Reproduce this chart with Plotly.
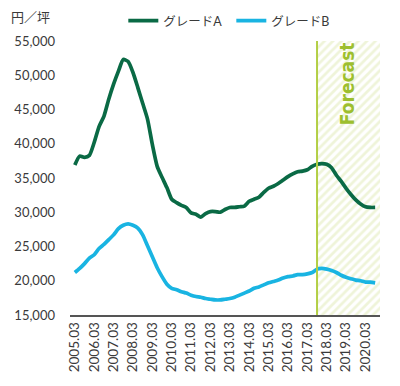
import plotly.graph_objects as go

# quarterly periods 2005.03 .. 2020.09
periods = [f"{y}.{m:02d}" for y in range(2005, 2021) for m in (3, 6, 9, 12)][:63]

grade_a = [36900, 38200, 38000, 38300, 40200, 42500, 44000, 46500, 48700, 50600,
           52300, 52000, 50400, 48200, 45900, 43600, 39900, 36700, 35100, 33600,
           31900, 31400, 31000, 30700, 29900, 29700, 29300, 29800, 30100, 30100,
           30000, 30400, 30700, 30700, 30800, 30900, 31600, 31900, 32200, 32900,
           33500, 33800, 34200, 34700, 35200, 35600, 35900, 36000, 36200, 36700,
           37000, 37100, 37000, 36500, 35400, 34500, 33500, 32600, 31800, 31200,
           30800, 30700, 30700]

grade_b = [21200, 21800, 22500, 23300, 23800, 24700, 25300, 26000, 26700, 27600,
           28100, 28300, 28100, 27700, 26700, 25100, 23500, 21900, 20600, 19500,
           18900, 18700, 18400, 18200, 17900, 17700, 17600, 17400, 17300, 17200,
           17200, 17300, 17400, 17600, 17900, 18200, 18500, 18900, 19100, 19400,
           19700, 19900, 20100, 20400, 20600, 20700, 20900, 20900, 21000, 21200,
           21700, 21800, 21700, 21500, 21200, 20800, 20500, 20300, 20100, 20000,
           19800, 19800, 19700]

tick_labels = ["2005.03", "2006.03", "2007.03", "2008.03", "2009.03", "2010.03",
               "2011.03", "2012.03", "2013.03", "2014.03", "2015.03", "2016.03",
               "2017.03", "2018.03", "2019.03", "2020.03"]

forecast_start = "2017.09"
y_min, y_max = 15000, 55000

x = list(range(len(periods)))
tickvals = [periods.index(t) for t in tick_labels]
fs = periods.index(forecast_start)
x_lo, x_hi = -1, len(periods)

GREEN = "#0a6a45"
BLUE = "#19b4e2"
LIME = "#b3cf45"
TXT = "#3a3a3a"
FONT = "Lato, Noto Sans CJK JP, sans-serif"

# page body has an 8px default margin; size the figure to fit the window
W, H = 392, 378

fig = go.Figure()

# forecast hatched region
fig.add_trace(go.Bar(
    x=[(fs + x_hi) / 2], y=[y_max - y_min], base=[y_min], width=[x_hi - fs],
    marker=dict(color="white", line=dict(width=0),
                pattern=dict(shape="/", fgcolor="#dfe9b4", bgcolor="white",
                             size=6, solidity=0.45)),
    showlegend=False, hoverinfo="skip"))

fig.add_trace(go.Scatter(x=x, y=grade_a, mode="lines", name="グレードA",
                         line=dict(color=GREEN, width=3.7, shape="spline", smoothing=0.6)))
fig.add_trace(go.Scatter(x=x, y=grade_b, mode="lines", name="グレードB",
                         line=dict(color=BLUE, width=3.7, shape="spline", smoothing=0.6)))

fig.add_shape(type="line", x0=fs, x1=fs, y0=y_min, y1=y_max, xref="x", yref="y",
              line=dict(color=LIME, width=2))

fig.add_annotation(x=(fs + x_hi) / 2 - 0.3, y=48700, xref="x", yref="y",
                   text="<b>Forecast</b>", textangle=-90, showarrow=False,
                   font=dict(family="DejaVu Sans Condensed, Liberation Sans", size=19, color="#9dbf2e"))

fig.add_annotation(x=-0.197, y=1.088, xref="paper", yref="paper", xanchor="left",
                   yanchor="middle", text="円／坪", showarrow=False,
                   font=dict(family=FONT, size=13, color=TXT))

fig.update_layout(
    width=W, height=H,
    margin=dict(l=62, r=20, t=33, b=71, autoexpand=False),
    paper_bgcolor="white", plot_bgcolor="white",
    font=dict(family=FONT, size=13, color=TXT),
    bargap=0,
    legend=dict(orientation="h", x=0.172, xanchor="left", xref="paper",
                y=1 - 13 / H, yref="container", yanchor="middle",
                font=dict(family=FONT, size=12.5, color=TXT),
                entrywidth=63, entrywidthmode="pixels", bgcolor="rgba(0,0,0,0)"),
    xaxis=dict(range=[x_lo, x_hi], tickvals=tickvals, ticktext=tick_labels,
               tickangle=-90, showgrid=False, zeroline=False, showline=True,
               linecolor="#555555", linewidth=1.5, ticks="",
               tickfont=dict(size=13.5, color=TXT)),
    yaxis=dict(range=[y_min, y_max], dtick=5000, tickformat=",d", showgrid=False,
               zeroline=False, showline=False, ticks="", ticklabelstandoff=14,
               tickfont=dict(size=13, color=TXT)),
)

fig.write_html("out.html")
